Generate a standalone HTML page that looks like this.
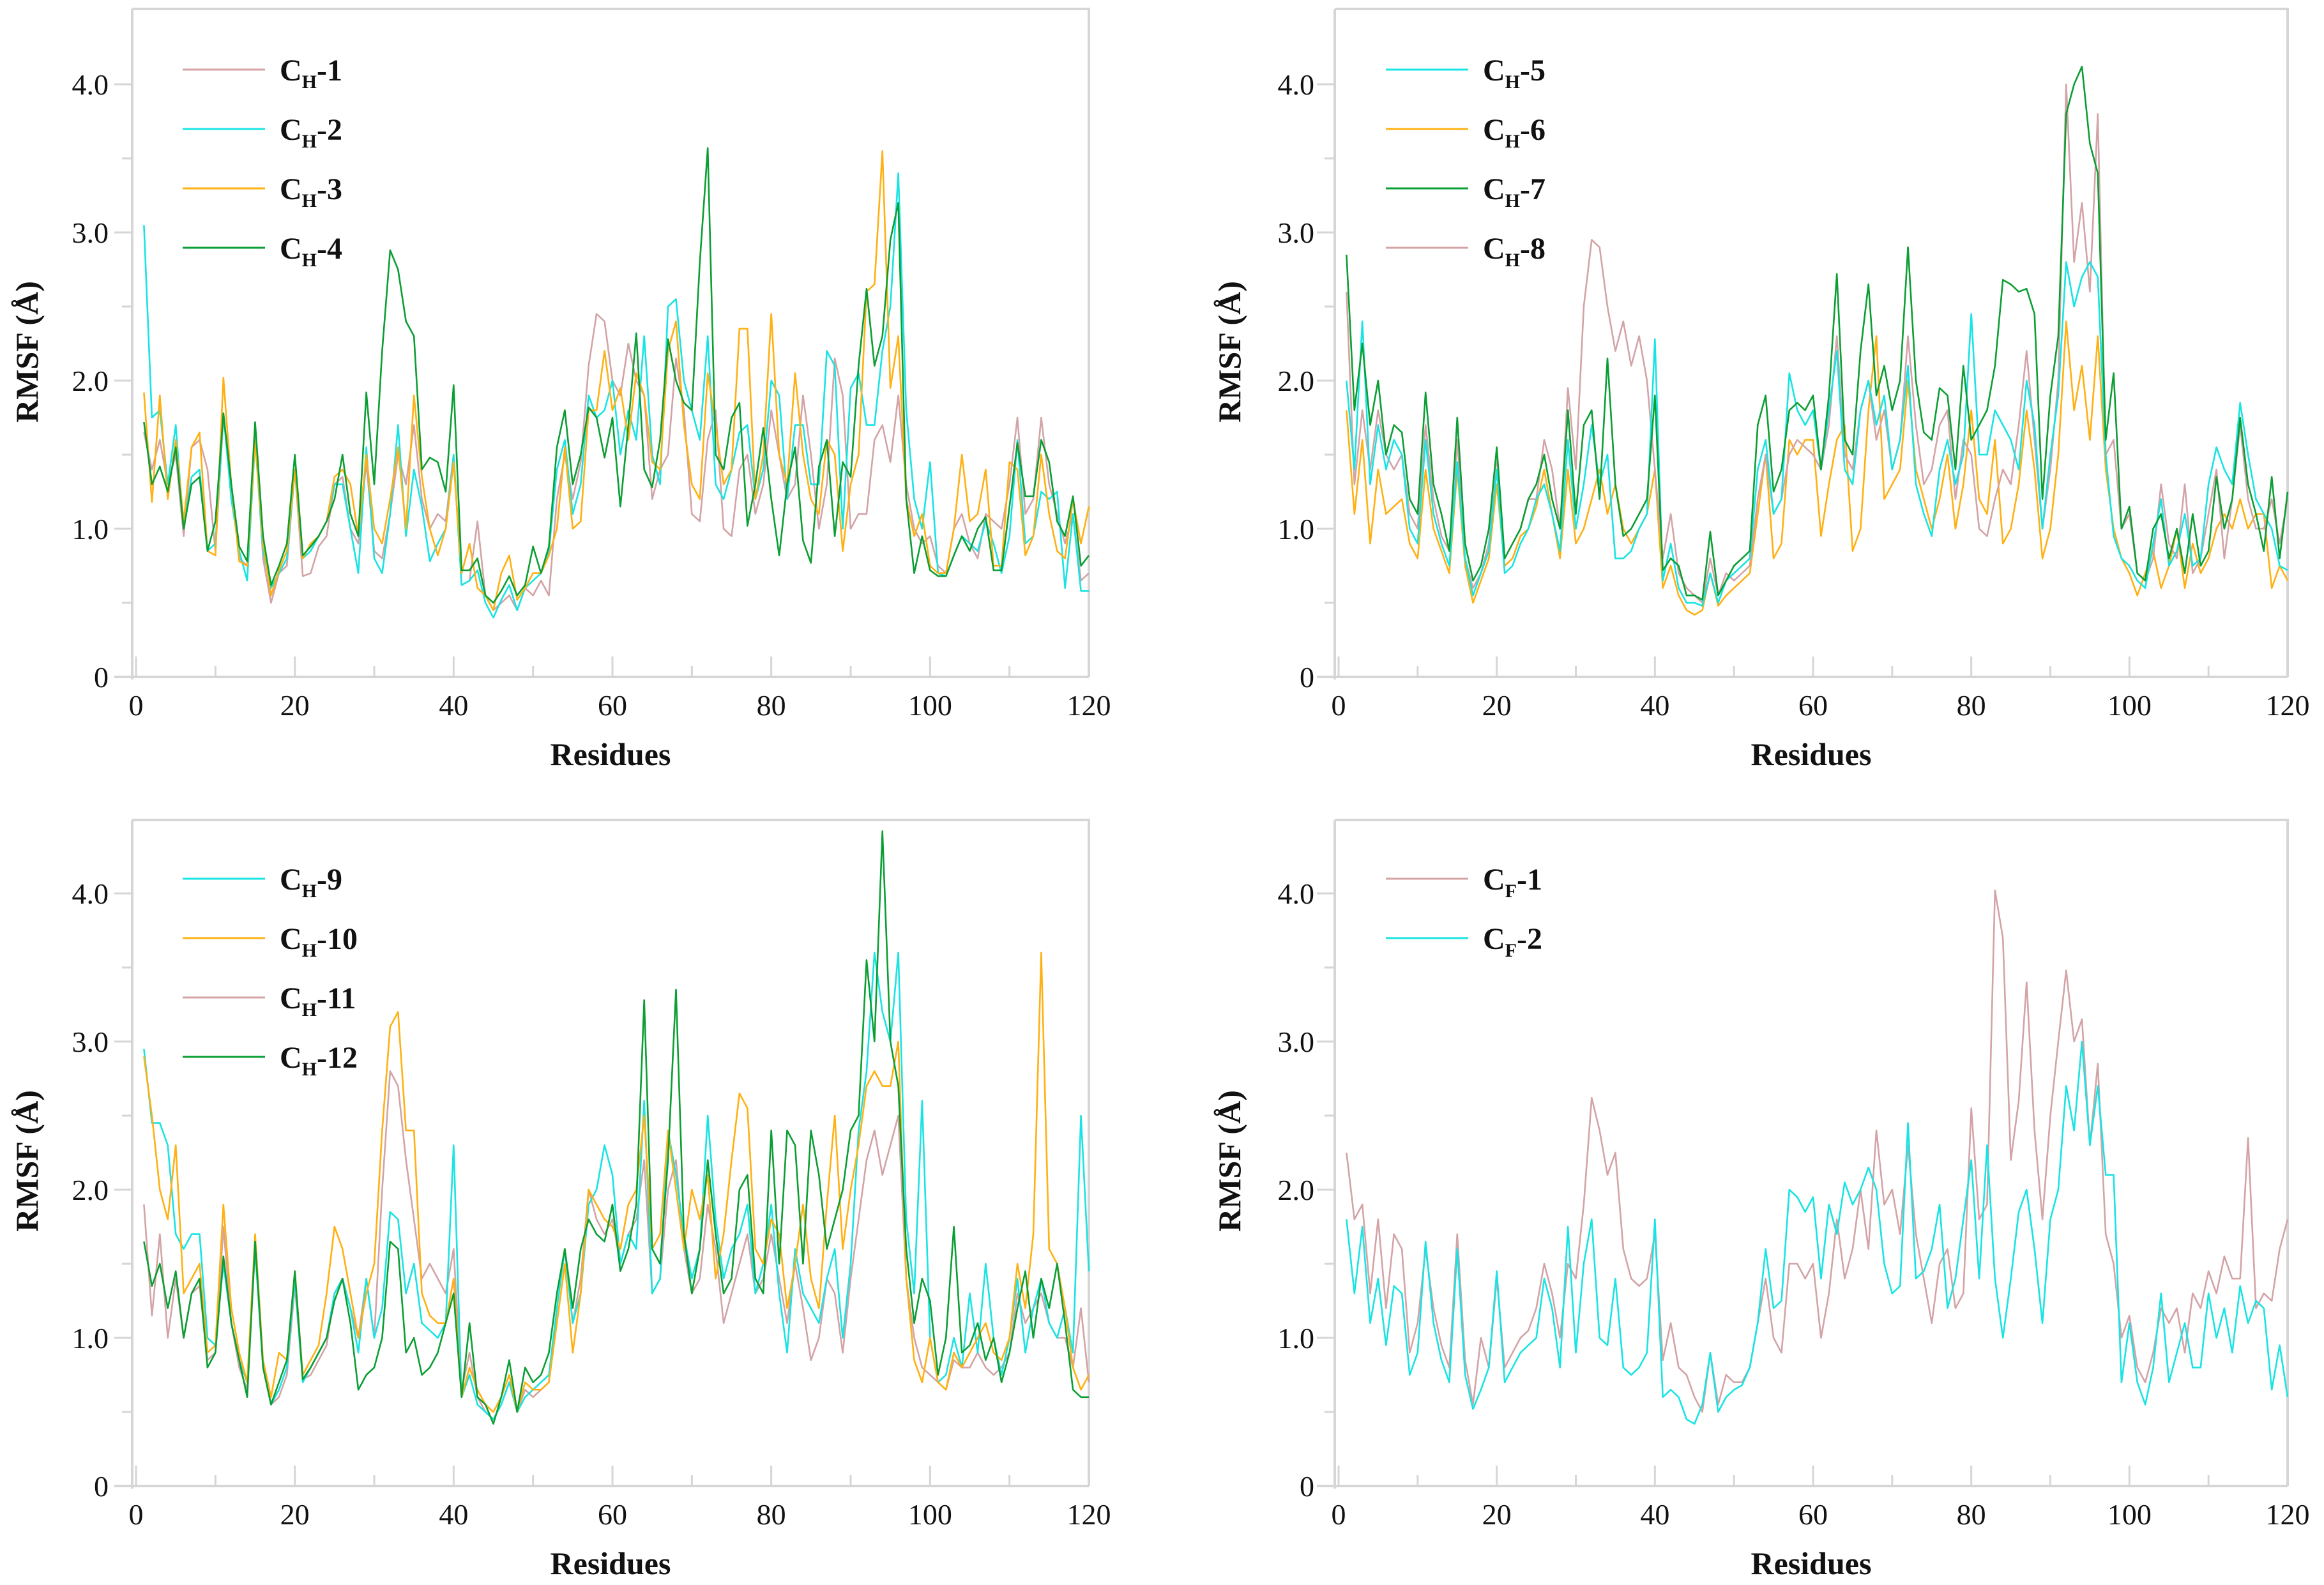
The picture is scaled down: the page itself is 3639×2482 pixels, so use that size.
<!DOCTYPE html>
<html><head><meta charset="utf-8">
<style>
html,body{margin:0;padding:0;background:#fff;}
svg{display:block;}
text{font-family:"Liberation Serif",serif;fill:#111;}
.tick{font-size:46px;}
.ttl{font-size:50px;font-weight:bold;}
.leg{font-size:48px;font-weight:bold;}
</style></head>
<body>
<svg id="fig" width="3639" height="2482" viewBox="0 0 3639 2482" xmlns="http://www.w3.org/2000/svg"></svg>
<script>
const residues = Array.from({length:120},(_,i)=>i+1);
const xTicks = [0,20,40,60,80,100,120];
const yTicks = [0,1,2,3,4];
const yTickLabels = ["0","1.0","2.0","3.0","4.0"];

const CH1 = [1.65,1.40,1.60,1.30,1.50,0.95,1.55,1.60,1.40,0.85, 1.75,1.30,0.80,0.75,1.65,0.80,0.50,0.70,0.75,1.40, 0.68,0.70,0.88,0.95,1.30,1.35,1.00,0.90,1.45,0.85, 0.80,1.10,1.50,1.30,1.70,1.20,1.00,1.10,1.05,1.50, 0.62,0.65,1.05,0.55,0.45,0.50,0.55,0.45,0.60,0.55, 0.65,0.55,1.20,1.50,1.20,1.45,2.10,2.45,2.40,2.00, 1.90,2.25,2.00,1.90,1.20,1.40,1.50,2.15,1.80,1.10, 1.05,1.60,1.80,1.00,0.95,1.40,1.50,1.10,1.30,1.80, 1.50,1.20,1.30,1.90,1.50,1.00,1.30,2.15,1.90,1.00, 1.10,1.10,1.60,1.70,1.45,1.90,1.30,1.00,0.90,0.95, 0.75,0.70,1.00,1.10,0.90,0.80,1.10,1.05,1.00,1.30, 1.75,1.10,1.20,1.75,1.30,1.10,0.90,1.10,0.65,0.70];
const CH2 = [3.05,1.75,1.80,1.30,1.70,1.00,1.35,1.40,0.85,0.90, 1.78,1.20,0.85,0.65,1.60,0.85,0.60,0.70,0.80,1.40, 0.80,0.85,0.95,1.05,1.30,1.30,1.00,0.70,1.55,0.80, 0.70,1.10,1.70,0.95,1.40,1.15,0.78,0.90,1.00,1.50, 0.62,0.65,0.72,0.50,0.40,0.52,0.62,0.45,0.60,0.65, 0.70,0.85,1.40,1.60,1.10,1.30,1.90,1.75,1.80,2.00, 1.50,1.80,1.60,2.30,1.50,1.30,2.50,2.55,2.00,1.80, 1.60,2.30,1.30,1.20,1.40,1.65,1.70,1.20,1.40,2.00, 1.90,1.20,1.70,1.70,1.30,1.30,2.20,2.10,1.00,1.95, 2.05,1.70,1.70,2.20,2.50,3.40,1.80,1.20,1.00,1.45, 0.70,0.68,0.82,0.95,0.90,0.85,1.05,0.90,0.70,0.95, 1.60,0.90,0.95,1.25,1.20,1.25,0.60,1.10,0.58,0.58];
const CH3 = [1.92,1.18,1.90,1.20,1.60,1.05,1.55,1.65,0.85,0.82, 2.02,1.30,0.78,0.75,1.60,0.90,0.55,0.72,0.85,1.40, 0.80,0.90,0.95,1.05,1.35,1.40,1.30,0.95,1.50,1.00, 0.90,1.20,1.55,1.00,1.90,1.35,1.00,0.82,1.00,1.45, 0.70,0.90,0.60,0.55,0.45,0.70,0.82,0.52,0.60,0.70, 0.70,0.82,1.00,1.55,1.00,1.05,1.80,1.80,2.20,1.80, 1.95,1.60,2.05,1.90,1.45,1.40,2.20,2.40,1.70,1.30, 1.20,2.05,1.70,1.30,1.40,2.35,2.35,1.20,1.50,2.45, 1.50,1.30,2.05,1.50,1.20,1.10,1.60,1.50,0.85,1.30, 1.50,2.60,2.65,3.55,1.95,2.30,1.20,0.95,1.10,0.75, 0.70,0.70,1.00,1.50,1.05,1.10,1.40,0.75,0.75,1.45, 1.40,0.82,0.95,1.50,1.10,0.85,0.80,1.20,0.90,1.15];
const CH4 = [1.72,1.30,1.42,1.25,1.55,1.00,1.30,1.35,0.85,1.05, 1.78,1.30,0.88,0.78,1.72,0.95,0.62,0.75,0.90,1.50, 0.82,0.88,0.95,1.05,1.20,1.50,1.10,0.95,1.92,1.30, 2.20,2.88,2.75,2.40,2.30,1.40,1.48,1.45,1.25,1.97, 0.72,0.72,0.80,0.55,0.50,0.58,0.68,0.55,0.62,0.88, 0.70,0.88,1.55,1.80,1.30,1.50,1.82,1.75,1.48,1.75, 1.15,1.70,2.32,1.40,1.28,1.60,2.28,2.00,1.85,1.80, 2.80,3.57,1.50,1.40,1.75,1.85,1.02,1.30,1.68,1.20, 0.82,1.30,1.55,0.92,0.77,1.42,1.60,0.95,1.45,1.35, 2.10,2.62,2.10,2.30,2.95,3.20,1.20,0.70,0.95,0.72, 0.68,0.68,0.82,0.95,0.85,1.00,1.08,0.72,0.72,1.15, 1.58,1.22,1.22,1.60,1.45,1.05,0.95,1.22,0.75,0.82];

const CH5 = [2.00,1.40,2.40,1.30,1.70,1.40,1.60,1.50,1.00,0.90, 1.60,1.10,0.90,0.75,1.45,0.80,0.55,0.70,0.85,1.40, 0.70,0.75,0.90,1.00,1.20,1.30,1.10,0.85,1.60,1.00, 1.30,1.70,1.30,1.50,0.80,0.80,0.85,1.00,1.10,2.28, 0.65,0.90,0.60,0.50,0.50,0.48,0.70,0.50,0.65,0.70, 0.75,0.80,1.40,1.60,1.10,1.20,2.05,1.80,1.70,1.80, 1.40,1.80,2.20,1.40,1.30,1.80,2.00,1.70,1.90,1.40, 1.60,2.10,1.30,1.10,0.95,1.40,1.60,1.30,1.50,2.45, 1.50,1.50,1.80,1.70,1.60,1.40,2.00,1.70,1.00,1.50, 1.90,2.80,2.50,2.70,2.80,2.70,1.50,0.95,0.80,0.75, 0.65,0.60,0.90,1.20,0.75,0.85,1.10,0.75,0.80,1.30, 1.55,1.40,1.30,1.85,1.50,1.20,1.10,1.00,0.75,0.72];
const CH6 = [1.80,1.10,1.60,0.90,1.40,1.10,1.15,1.20,0.90,0.80, 1.40,1.00,0.85,0.70,1.40,0.75,0.50,0.65,0.80,1.30, 0.75,0.80,0.95,1.00,1.15,1.40,1.10,0.80,1.40,0.90, 1.00,1.20,1.40,1.10,1.30,1.00,0.90,1.00,1.10,1.40, 0.60,0.75,0.55,0.45,0.42,0.45,0.70,0.48,0.55,0.60, 0.65,0.70,1.10,1.50,0.80,0.90,1.60,1.50,1.60,1.60, 0.95,1.30,1.60,1.70,0.85,1.00,1.80,2.30,1.20,1.30, 1.40,2.00,1.40,1.20,1.00,1.20,1.50,1.00,1.30,1.80, 1.20,1.10,1.60,0.90,1.00,1.30,1.80,1.40,0.80,1.00, 1.50,2.40,1.80,2.10,1.60,2.30,1.40,1.00,0.80,0.70, 0.55,0.70,0.85,0.60,0.75,1.00,0.60,0.90,0.70,0.80, 1.00,1.10,1.00,1.20,1.00,1.10,1.10,0.60,0.75,0.65];
const CH7 = [2.85,1.80,2.25,1.70,2.00,1.50,1.70,1.65,1.20,1.10, 1.92,1.30,1.10,0.85,1.75,0.90,0.65,0.75,1.00,1.55, 0.80,0.90,1.00,1.20,1.30,1.50,1.20,1.00,1.80,1.10, 1.70,1.80,1.20,2.15,1.30,0.95,1.00,1.10,1.20,1.90, 0.72,0.80,0.75,0.55,0.55,0.52,0.98,0.55,0.65,0.75, 0.80,0.85,1.70,1.90,1.25,1.40,1.80,1.85,1.80,1.90, 1.40,1.90,2.72,1.60,1.50,2.20,2.65,1.90,2.10,1.80, 2.00,2.90,2.00,1.65,1.60,1.95,1.90,1.40,2.10,1.60, 1.70,1.80,2.10,2.68,2.65,2.60,2.62,2.45,1.20,1.90, 2.30,3.80,4.00,4.12,3.60,3.40,1.60,2.05,1.00,1.15, 0.70,0.65,1.00,1.10,0.80,1.00,0.70,1.10,0.75,0.85, 1.35,1.00,1.20,1.75,1.30,1.10,0.85,1.35,0.80,1.25];
const CH8 = [2.60,1.30,1.80,1.40,1.80,1.50,1.40,1.50,1.10,1.00, 1.70,1.20,0.95,0.85,1.60,0.80,0.60,0.70,0.90,1.50, 0.80,0.90,1.00,1.20,1.20,1.60,1.40,1.00,1.95,1.40, 2.50,2.95,2.90,2.50,2.20,2.40,2.10,2.30,2.00,1.40, 0.80,1.10,0.70,0.60,0.55,0.50,0.80,0.55,0.70,0.65, 0.70,0.75,1.20,1.50,1.10,1.20,1.50,1.60,1.55,1.50, 1.40,1.70,2.30,1.50,1.40,1.80,2.00,1.60,1.80,1.40, 1.60,2.30,1.70,1.30,1.40,1.70,1.80,1.20,1.60,1.50, 1.00,0.95,1.20,1.40,1.30,1.70,2.20,1.60,1.00,1.40, 2.00,4.00,2.80,3.20,2.60,3.80,1.50,1.60,1.00,1.10, 0.70,0.65,0.80,1.30,0.90,0.80,1.30,0.70,0.80,1.10, 1.40,0.80,1.20,1.70,1.20,1.00,1.00,1.20,0.90,1.20];

const CH9 = [2.95,2.45,2.45,2.30,1.70,1.60,1.70,1.70,1.00,0.95, 1.50,1.10,0.85,0.70,1.60,0.80,0.55,0.65,0.80,1.40, 0.70,0.80,0.90,1.00,1.30,1.40,1.20,0.90,1.40,1.00, 1.20,1.85,1.80,1.30,1.50,1.10,1.05,1.00,1.10,2.30, 0.60,0.75,0.55,0.50,0.45,0.55,0.70,0.50,0.60,0.65, 0.70,0.75,1.20,1.60,1.10,1.30,1.90,2.00,2.30,2.10, 1.50,1.70,1.60,2.60,1.30,1.40,2.40,2.10,1.70,1.40, 1.60,2.50,1.80,1.40,1.60,1.70,1.90,1.30,1.50,1.90, 1.30,0.90,1.60,1.30,1.20,1.10,1.40,1.60,1.00,1.50, 2.40,2.80,3.60,3.20,3.00,3.60,1.80,1.30,2.60,1.00, 0.70,0.75,1.00,0.80,1.30,0.90,1.50,1.00,0.75,1.00, 1.40,0.90,1.20,1.40,1.10,1.00,1.20,0.90,2.50,1.45];
const CH10 = [2.90,2.50,2.00,1.80,2.30,1.30,1.40,1.50,0.90,0.95, 1.90,1.20,0.90,0.70,1.70,0.85,0.60,0.90,0.85,1.45, 0.75,0.85,0.95,1.30,1.75,1.60,1.30,1.00,1.30,1.50, 2.40,3.10,3.20,2.40,2.40,1.30,1.15,1.10,1.10,1.40, 0.60,0.80,0.65,0.55,0.50,0.60,0.75,0.50,0.70,0.65, 0.65,0.70,1.10,1.50,0.90,1.30,2.00,1.90,1.80,1.75, 1.60,1.90,2.00,2.50,1.60,1.70,2.40,2.00,1.60,2.00, 1.80,2.10,1.40,1.70,2.20,2.65,2.55,1.60,1.50,1.80, 1.70,1.20,1.50,1.90,1.40,1.20,1.90,2.50,1.60,2.00, 2.30,2.70,2.80,2.70,2.70,3.00,1.40,0.85,0.70,1.00, 0.70,0.65,0.90,0.80,0.90,1.00,1.10,0.90,0.85,1.00, 1.50,1.20,1.70,3.60,1.60,1.50,1.20,0.80,0.65,0.75];
const CH11 = [1.90,1.15,1.70,1.00,1.40,1.00,1.30,1.35,0.85,0.90, 1.75,1.10,0.80,0.65,1.60,0.80,0.55,0.60,0.75,1.35, 0.72,0.75,0.85,0.95,1.30,1.40,1.20,1.00,1.40,1.00, 2.00,2.80,2.70,2.20,1.80,1.40,1.50,1.40,1.30,1.60, 0.65,0.90,0.60,0.50,0.45,0.55,0.70,0.50,0.65,0.60, 0.65,0.70,1.20,1.60,1.10,1.40,2.00,1.80,1.70,1.80, 1.50,1.70,1.80,2.20,1.30,1.40,2.00,2.20,1.60,1.30, 1.40,1.90,1.60,1.10,1.30,1.50,1.70,1.30,1.40,1.70, 1.40,1.10,1.50,1.20,0.85,1.00,1.40,1.30,0.90,1.40, 1.80,2.20,2.40,2.10,2.30,2.50,1.40,1.00,0.80,0.75, 0.70,0.65,0.85,0.80,0.80,0.90,0.80,0.75,0.80,0.90, 1.30,1.10,1.20,1.30,1.10,1.00,1.00,0.80,1.20,0.70];
const CH12 = [1.65,1.35,1.50,1.20,1.45,1.00,1.30,1.40,0.80,0.90, 1.55,1.10,0.85,0.60,1.65,0.80,0.55,0.70,0.85,1.45, 0.72,0.80,0.90,1.00,1.25,1.40,1.10,0.65,0.75,0.80, 1.00,1.65,1.60,0.90,1.00,0.75,0.80,0.90,1.10,1.30, 0.60,1.10,0.60,0.55,0.42,0.60,0.85,0.50,0.80,0.70, 0.75,0.90,1.30,1.60,1.20,1.60,1.80,1.70,1.65,1.90, 1.45,1.60,1.90,3.28,1.60,1.50,2.20,3.35,1.70,1.30, 1.60,2.20,1.70,1.30,1.40,2.00,2.10,1.40,1.30,2.40, 1.50,2.40,2.30,1.50,2.40,2.10,1.60,1.80,2.00,2.40, 2.50,3.55,3.00,4.42,3.00,2.70,1.60,1.10,1.40,1.25, 0.75,1.00,1.75,0.90,0.95,1.10,0.85,1.00,0.70,0.90, 1.20,1.45,1.00,1.40,1.20,1.50,1.10,0.65,0.60,0.60];

const CF1 = [2.25,1.80,1.90,1.30,1.80,1.20,1.70,1.60,0.90,1.10, 1.60,1.20,0.95,0.80,1.70,0.85,0.55,1.00,0.80,1.40, 0.80,0.90,1.00,1.05,1.20,1.50,1.30,1.00,1.50,1.40, 1.90,2.62,2.40,2.10,2.25,1.60,1.40,1.35,1.40,1.70, 0.85,1.10,0.80,0.75,0.60,0.50,0.90,0.55,0.75,0.70, 0.70,0.80,1.10,1.40,1.00,0.90,1.50,1.50,1.40,1.50, 1.00,1.30,1.80,1.40,1.60,2.00,1.60,2.40,1.90,2.00, 1.70,2.30,1.70,1.40,1.10,1.50,1.60,1.20,1.30,2.55, 1.80,1.90,4.02,3.70,2.20,2.60,3.40,2.40,1.80,2.50, 3.00,3.48,3.00,3.15,2.30,2.85,1.70,1.50,1.00,1.15, 0.80,0.70,0.90,1.20,1.10,1.20,0.90,1.30,1.20,1.45, 1.30,1.55,1.40,1.40,2.35,1.20,1.30,1.25,1.60,1.80];
const CF2 = [1.80,1.30,1.75,1.10,1.40,0.95,1.35,1.30,0.75,0.90, 1.65,1.10,0.85,0.70,1.60,0.75,0.52,0.65,0.80,1.45, 0.70,0.80,0.90,0.95,1.00,1.40,1.20,0.80,1.75,0.90, 1.50,1.80,1.00,0.95,1.40,0.80,0.75,0.80,0.90,1.80, 0.60,0.65,0.60,0.45,0.42,0.55,0.90,0.50,0.60,0.65, 0.68,0.80,1.10,1.60,1.20,1.25,2.00,1.95,1.85,1.95, 1.40,1.90,1.70,2.05,1.90,2.00,2.15,2.00,1.50,1.30, 1.35,2.45,1.40,1.45,1.60,1.90,1.20,1.40,1.80,2.20, 1.40,2.30,1.40,1.00,1.40,1.85,2.00,1.60,1.10,1.80, 2.00,2.70,2.40,3.00,2.30,2.70,2.10,2.10,0.70,1.10, 0.70,0.55,0.80,1.30,0.70,0.90,1.10,0.80,0.80,1.30, 1.00,1.20,0.90,1.35,1.10,1.25,1.20,0.65,0.95,0.60];

const PINK="#d3a3a6", CYAN="#19e3e3", ORANGE="#ffb012", GREEN="#0a9e33";
const NS="http://www.w3.org/2000/svg";
const svg=document.getElementById('fig');
function mk(tag,attrs,parent){const e=document.createElementNS(NS,tag);for(const k in attrs)e.setAttribute(k,attrs[k]);(parent||svg).appendChild(e);return e;}

const panels=[
 {id:'a',x0:213,x1:1705,y0:1060,y4:132,top:14,yl:170,ax:42,legX:286,legY:109,
  series:[[CH1,PINK,'H','1'],[CH2,CYAN,'H','2'],[CH3,ORANGE,'H','3'],[CH4,GREEN,'H','4']],order:[0,1,2,3]},
 {id:'b',x0:2096,x1:3582,y0:1060,y4:132,top:14,yl:2058,ax:1925,legX:2170,legY:109,
  series:[[CH5,CYAN,'H','5'],[CH6,ORANGE,'H','6'],[CH7,GREEN,'H','7'],[CH8,PINK,'H','8']],order:[1,3,0,2]},
 {id:'c',x0:213,x1:1705,y0:2327,y4:1399,top:1284,yl:170,ax:42,legX:286,legY:1376,
  series:[[CH9,CYAN,'H','9'],[CH10,ORANGE,'H','10'],[CH11,PINK,'H','11'],[CH12,GREEN,'H','12']],order:[2,0,1,3]},
 {id:'d',x0:2096,x1:3582,y0:2327,y4:1399,top:1284,yl:2058,ax:1925,legX:2170,legY:1376,
  series:[[CF1,PINK,'F','1'],[CF2,CYAN,'F','2']],order:[0,1]}
];

panels.forEach(p=>{
  const g=mk('g',{});
  
  
  const xs=v=>p.x0+(v/120)*(p.x1-p.x0);
  const ys=v=>p.y0-(v/4)*(p.y0-p.y4);
  const ax=p.x0-6;
  // frame
  const fr=mk('path',{d:`M${ax} ${p.top} H${p.x1} V${p.y0} M${ax} ${p.top} V${p.y0+4} M${ax-28} ${p.y0} H${p.x1}`,stroke:'#d6d6d6','stroke-width':4,fill:'none'},g);
  
  
  // x ticks
  for(let v=0;v<=120;v+=10){
    const major=v%20===0;
    mk('line',{x1:xs(v),x2:xs(v),y1:p.y0,y2:p.y0-(major?32:17),stroke:'#d6d6d6','stroke-width':3},g);
  }
  xTicks.forEach(v=>{
    const t=mk('text',{x:xs(v),y:p.y0+60,'text-anchor':'middle',class:'tick'},g);
    t.textContent=v;
    
    
  });
  for(let v=0;v<=4.0001;v+=0.5){
    const major=Math.abs(v-Math.round(v))<0.01;
    mk('line',{x1:ax,x2:ax-(major?28:16),y1:ys(v),y2:ys(v),stroke:'#d6d6d6','stroke-width':3},g);
  }
  yTicks.forEach((v,i)=>{
    const t=mk('text',{x:p.yl,y:ys(v)+16,'text-anchor':'end',class:'tick'},g);
    t.textContent=yTickLabels[i];
    
    
  });
  const xt=mk('text',{x:(p.x0+p.x1)/2-3,y:p.y0+138,'text-anchor':'middle',class:'ttl'},g);
  xt.textContent='Residues';
  
  
  const cy=(p.y0+p.y4)/2-45;
  const yt=mk('text',{x:p.ax+17,y:cy,'text-anchor':'middle',class:'ttl',transform:`rotate(-90 ${p.ax+17} ${cy})`},g);
  yt.textContent='RMSF (Å)';
  
  
  // series
  p.order.forEach(si=>{
    const [data,col,sub,num]=p.series[si];
    const d=data.map((v,i)=>(i?'L':'M')+xs(residues[i]).toFixed(1)+' '+ys(v).toFixed(1)).join(' ');
    const path=mk('path',{d:d,stroke:col,'stroke-width':2.6,fill:'none','stroke-linejoin':'round'},g);
    
    
  });
  // legend
  p.series.forEach(([data,col,sub,num],i)=>{
    const y=p.legY+i*93;
    const lg=mk('g',{},g);
    
    
    mk('line',{x1:p.legX,x2:p.legX+129,y1:y,y2:y,stroke:col,'stroke-width':3},lg);
    const t=mk('text',{x:p.legX+152,y:y+17,class:'leg'},lg);
    const a=mk('tspan',{},t);a.textContent='C';
    const b=mk('tspan',{dy:12,'font-size':30},t);b.textContent=sub;
    const c=mk('tspan',{dy:-12},t);c.textContent='-'+num;
  });
});
</script>
</body></html>
